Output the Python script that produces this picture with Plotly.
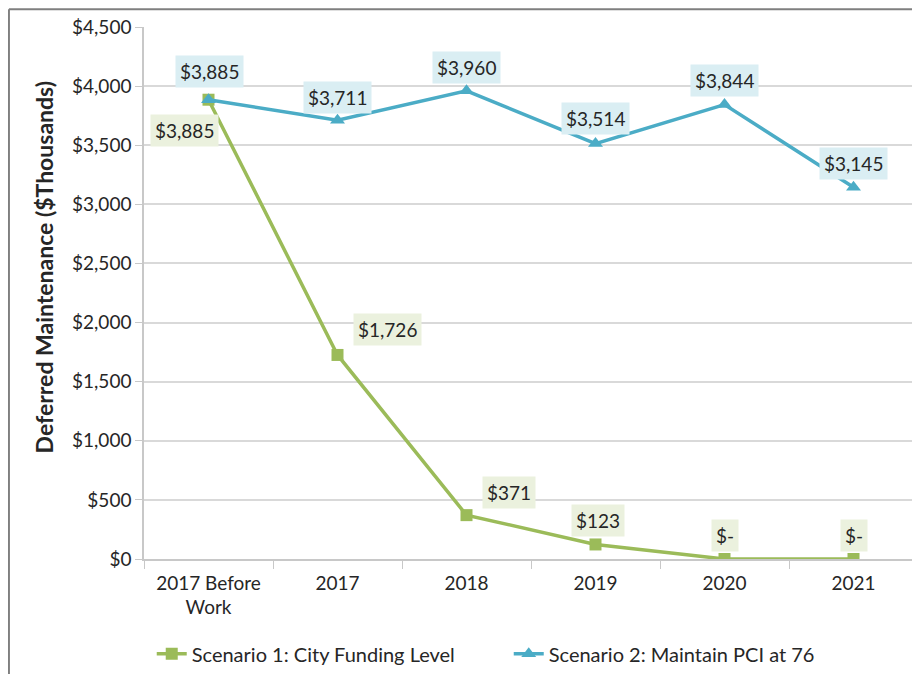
import plotly.graph_objects as go

categories = ["2017 Before<br>Work", "2017", "2018", "2019", "2020", "2021"]
scenario1 = [3885, 1726, 371, 123, 0, 0]
scenario2 = [3885, 3711, 3960, 3514, 3844, 3145]
labels1 = ["$3,885", "$1,726", "$371", "$123", "$-", "$-"]
labels2 = ["$3,885", "$3,711", "$3,960", "$3,514", "$3,844", "$3,145"]
y_ticks = [0, 500, 1000, 1500, 2000, 2500, 3000, 3500, 4000, 4500]
y_ticktext = ["$0", "$500", "$1,000", "$1,500", "$2,000", "$2,500", "$3,000", "$3,500", "$4,000", "$4,500"]
y_title = "Deferred Maintenance ($Thousands)"

GREEN = "#9BBB59"
BLUE = "#4BACC6"
FONT = "Lato, Open Sans, sans-serif"
TXT = "#262626"

fig = go.Figure()
fig.add_trace(go.Scatter(
    x=categories, y=scenario1, mode="lines+markers",
    name="Scenario 1: City Funding Level",
    line=dict(color=GREEN, width=3.5),
    marker=dict(symbol="square", size=12, color=GREEN),
))
fig.add_trace(go.Scatter(
    x=categories, y=scenario2, mode="lines+markers",
    name="Scenario 2: Maintain PCI at 76",
    line=dict(color=BLUE, width=3.5),
    marker=dict(symbol="triangle-up", size=13, color=BLUE),
))

shifts1 = [(-24, -31), (50, 25), (42, 23), (2, 24), (0, 24), (0, 24)]
shifts2 = [(1, 28), (0, 23), (0, 23), (0, 25), (0, 24), (0, 24)]
for i, (v, t, (dx, dy)) in enumerate(zip(scenario1, labels1, shifts1)):
    fig.add_annotation(x=i, y=v, text=t, showarrow=False, xshift=dx, yshift=dy,
                       bgcolor="#EBF1DE", borderpad=4,
                       font=dict(family=FONT, size=19, color=TXT))
for i, (v, t, (dx, dy)) in enumerate(zip(scenario2, labels2, shifts2)):
    fig.add_annotation(x=i, y=v, text=t, showarrow=False, xshift=dx, yshift=dy,
                       bgcolor="#DAEEF3", borderpad=4,
                       font=dict(family=FONT, size=19, color=TXT))

# y-axis title
fig.add_annotation(x=-0.128, y=0.548, xref="paper", yref="paper", text="<b>" + y_title + "</b>",
                   textangle=-90, showarrow=False, xanchor="center", yanchor="middle",
                   font=dict(family=FONT, size=23, color=TXT))

# outer frame
fig.add_shape(type="line", xref="paper", yref="paper", x0=-0.1745, x1=1.01,
              y0=1.0335, y1=1.0335, line=dict(color="#7f7f7f", width=2))
fig.add_shape(type="line", xref="paper", yref="paper", x0=-0.1745, x1=-0.1745,
              y0=1.0335, y1=-0.3, line=dict(color="#7f7f7f", width=2))

fig.update_layout(
    width=912, height=666,
    margin=dict(l=136, r=2, t=19, b=114),
    paper_bgcolor="white", plot_bgcolor="white",
    font=dict(family=FONT, size=19, color=TXT),
    showlegend=True,
    legend=dict(orientation="h", x=0.01, xanchor="left", y=-0.176, yanchor="middle",
                font=dict(family=FONT, size=20, color=TXT), itemwidth=30,
                entrywidth=312, entrywidthmode="pixels",
                traceorder="normal"),
    xaxis=dict(
        type="category", showgrid=False, showline=True, linecolor="#c8c8c8", linewidth=1.5,
        ticks="outside", tickson="boundaries", ticklen=8, tickcolor="#c8c8c8",
        tickfont=dict(family=FONT, size=19, color=TXT), range=[-0.5, 5.5],
        automargin=False, ticklabelstandoff=6,
    ),
    yaxis=dict(
        range=[0, 4500], tickvals=y_ticks, ticktext=y_ticktext,
        showgrid=True, gridcolor="#d9d9d9", gridwidth=1.5,
        showline=True, linecolor="#c8c8c8", linewidth=1.5,
        ticks="outside", ticklen=7, tickcolor="#c8c8c8",
        tickfont=dict(family=FONT, size=19, color=TXT),
        zeroline=False, automargin=False,
    ),
)

fig.write_html("out.html")
